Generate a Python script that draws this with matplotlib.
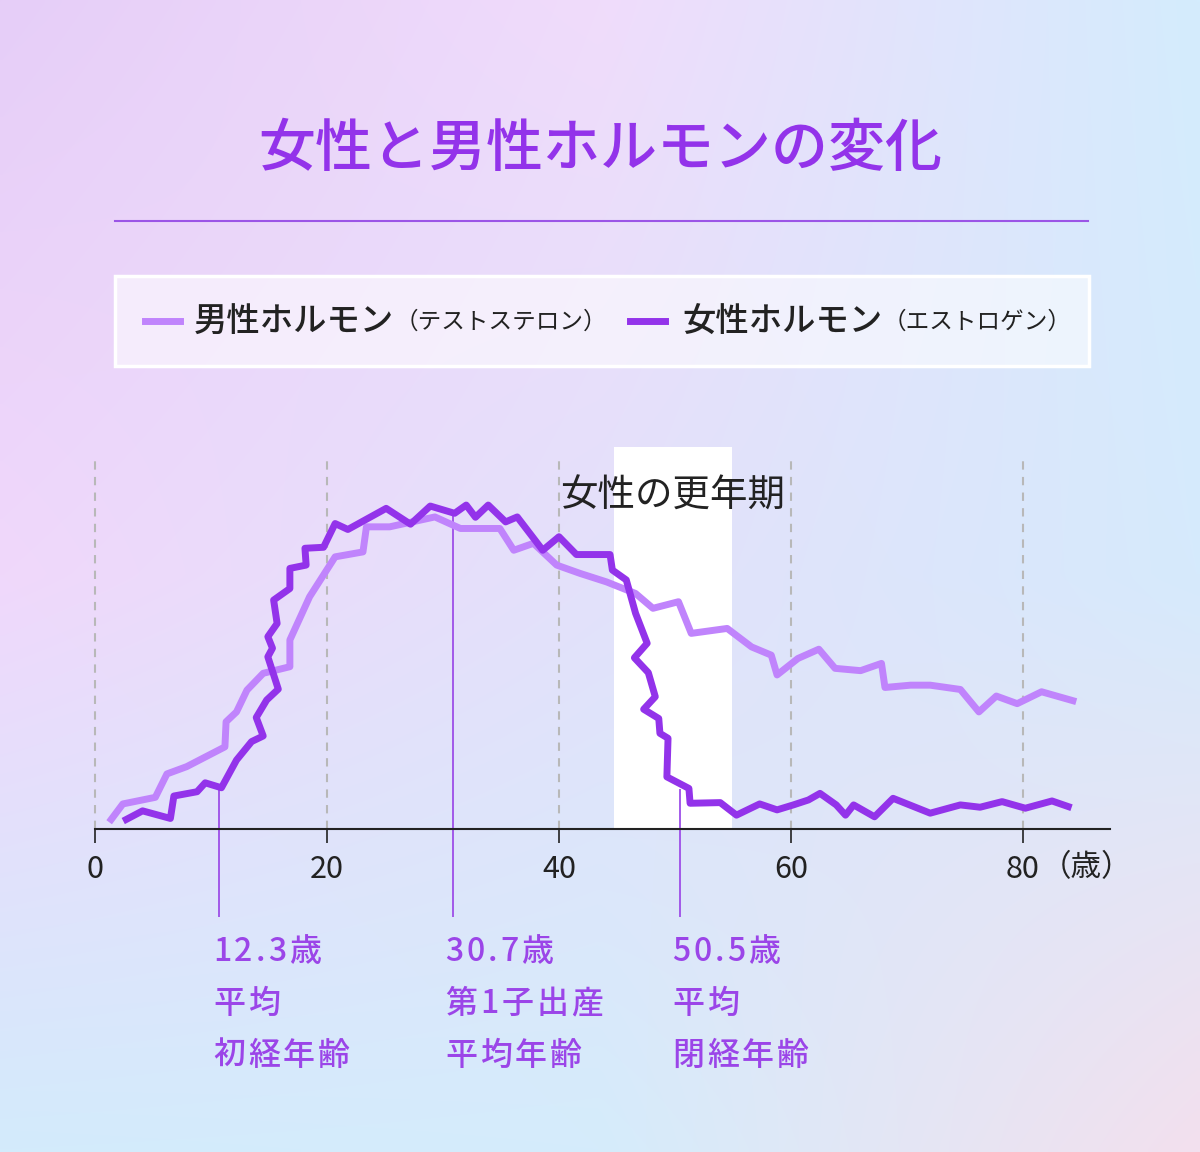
import numpy as np
import matplotlib
matplotlib.use("Agg")
import matplotlib.pyplot as plt
from matplotlib.lines import Line2D
from matplotlib.patches import Rectangle

plt.rcParams['font.family'] = ['Noto Sans CJK JP', 'DejaVu Sans']

# --- data (age in years, relative hormone level 0-100) ---
female_age = [2.7, 4.1, 6.5, 6.8, 8.8, 9.5, 10.9, 12.2, 13.5, 14.5, 13.9, 14.8, 15.8, 14.9, 15.3,
              14.9, 15.7, 15.4, 16.8, 16.8, 18.2, 18.1, 19.7, 20.7, 21.8, 25.1, 27.2, 28.9, 31.0,
              32.0, 32.8, 33.9, 35.4, 36.4, 38.6, 40.0, 41.5, 44.4, 44.6, 45.8, 46.6, 47.6, 46.5,
              47.7, 48.3, 47.3, 48.6, 48.7, 49.4, 49.3, 51.2, 51.3, 53.9, 55.3, 57.3, 58.8, 60.2,
              61.5, 62.5, 63.9, 64.7, 65.4, 67.2, 68.8, 72.0, 74.6, 76.3, 78.2, 80.2, 82.5, 83.9]
female_level = [2.9, 5.5, 3.2, 10.0, 11.3, 14.0, 12.5, 20.9, 26.5, 28.2, 33.8, 39.1, 42.4, 52.2, 54.8,
                58.3, 62.3, 69.4, 72.9, 79.0, 80.0, 85.1, 85.4, 92.6, 90.8, 97.2, 92.4, 97.9, 95.7,
                98.2, 94.5, 98.2, 93.1, 94.6, 84.5, 88.6, 83.2, 83.2, 78.5, 75.5, 65.4, 56.3, 51.9,
                47.4, 40.1, 36.3, 33.5, 29.0, 27.5, 15.8, 12.3, 7.8, 8.0, 4.2, 7.6, 5.8, 7.3,
                8.8, 10.8, 7.3, 4.2, 7.3, 3.7, 9.3, 4.8, 7.3, 6.6, 8.3, 6.3, 8.5, 6.8]

male_age = [1.4, 2.4, 5.2, 6.2, 7.9, 11.2, 11.3, 12.2, 13.1, 14.5, 16.8, 16.8, 18.5, 20.7, 23.1,
            23.4, 25.4, 29.3, 31.5, 34.9, 36.1, 37.8, 39.8, 41.8, 44.1, 46.6, 48.1, 50.3, 51.4,
            54.5, 56.6, 58.3, 58.8, 60.6, 62.4, 63.8, 66.0, 67.8, 68.1, 70.3, 72.0, 74.6, 76.2,
            77.7, 79.5, 81.6, 84.3]
male_level = [2.9, 7.6, 9.6, 16.7, 18.9, 24.9, 32.5, 35.5, 42.1, 47.2, 49.2, 57.3, 70.4, 82.5, 84.0,
              91.6, 91.6, 94.6, 91.1, 91.1, 84.5, 86.6, 80.0, 77.5, 74.9, 71.4, 66.9, 68.9, 59.3,
              60.8, 55.2, 52.7, 46.7, 51.7, 54.5, 48.7, 48.0, 50.2, 42.9, 43.6, 43.6, 42.3, 35.5,
              40.3, 38.0, 41.6, 38.9]

tick_ages = [0, 20, 40, 60, 80]
tick_labels = ['0', '20', '40', '60', '80']
menopause_span = (44.7, 54.9)

marker_ages = [10.7, 30.9, 50.4]
marker_tops = [12.7, 96.7, 12.0]
marker_labels = [['12.3歳', '平均', '初経年齢'],
                 ['30.7歳', '第1子出産', '平均年齢'],
                 ['50.5歳', '平均', '閉経年齢']]

title = '女性と男性ホルモンの変化'
male_name, male_sub = '男性ホルモン', '（テストステロン）'
female_name, female_sub = '女性ホルモン', '（エストロゲン）'

light = '#c084fc'
dark = '#9333ea'
ink = '#222222'

W, H = 1200, 1152


def fx(px):
    return px / W


def fy(py):
    return 1 - py / H


fig = plt.figure(figsize=(12, 11.52), dpi=100)
renderer = fig.canvas.get_renderer()


def text_width(s, size, weight):
    t = fig.text(0, 0, s, fontsize=size, fontweight=weight)
    w = t.get_window_extent(renderer).width
    t.remove()
    return w


def spaced_text(x_px, base_px, s, size, color, gap, weight='medium'):
    # draw a string char by char to get the letter spacing of the original
    x = x_px
    for ch in s:
        fig.text(fx(x), fy(base_px), ch, ha='left', va='baseline', fontsize=size,
                 color=color, fontweight=weight)
        x += text_width(ch + ch, size, weight) - text_width(ch, size, weight) + gap


# background gradient (3x3 colour grid, bilinear)
grid_hex = [['#e6cef8', '#f0dcfb', '#d4ecfd'],
            ['#f0d8fb', '#e3e1fa', '#d6eafc'],
            ['#d3ebfc', '#d5ecfb', '#f3e0ee']]
grid = np.array([[matplotlib.colors.to_rgb(c) for c in row] for row in grid_hex])
ny, nx = 230, 240
gy = np.linspace(0, 2, ny)[:, None]
gx = np.linspace(0, 2, nx)[None, :]
iy = np.clip(np.floor(gy).astype(int), 0, 1)
ix = np.clip(np.floor(gx).astype(int), 0, 1)
ty = (gy - iy)[..., None]
tx = (gx - ix)[..., None]
iy2 = np.broadcast_to(iy, (ny, nx))
ix2 = np.broadcast_to(ix, (ny, nx))
c00 = grid[iy2, ix2]
c01 = grid[iy2, ix2 + 1]
c10 = grid[iy2 + 1, ix2]
c11 = grid[iy2 + 1, ix2 + 1]
img = (c00 * (1 - tx) + c01 * tx) * (1 - ty) + (c10 * (1 - tx) + c11 * tx) * ty
bg = fig.add_axes([0, 0, 1, 1])
bg.imshow(img, extent=[0, 1, 0, 1], aspect='auto', interpolation='bilinear')
bg.axis('off')

# title and rule
fig.text(0.5, fy(150), title, ha='center', va='center', fontsize=41,
         color=dark, fontweight='medium')
fig.add_artist(Line2D([fx(115), fx(1088)], [fy(221), fy(221)], color='#9b55e6', lw=1.5))

# legend box
fig.add_artist(Rectangle((fx(115), fy(366)), fx(1089) - fx(115), (366 - 276) / H,
                         facecolor=(1, 1, 1, 0.55), edgecolor='white', lw=2.5,
                         transform=fig.transFigure))
fig.add_artist(Line2D([fx(145), fx(180)], [fy(321), fy(321)], color=light, lw=5))
fig.text(fx(194), fy(322), male_name, ha='left', va='center', fontsize=24, color=ink,
         fontweight='medium')
fig.text(fx(395), fy(322), male_sub, ha='left', va='center', fontsize=17, color=ink)
fig.add_artist(Line2D([fx(630), fx(665)], [fy(321), fy(321)], color=dark, lw=5))
fig.text(fx(682), fy(322), female_name, ha='left', va='center', fontsize=24, color=ink,
         fontweight='medium')
fig.text(fx(883), fy(322), female_sub, ha='left', va='center', fontsize=17, color=ink)

# main chart
ax = fig.add_axes([fx(95), fy(829), fx(1110) - fx(95), (829 - 447) / H])
ax.patch.set_alpha(0)
ax.set_xlim(0, 87.5)
ax.set_ylim(0, 115.8)
for side in ['top', 'right', 'left']:
    ax.spines[side].set_visible(False)
ax.spines['bottom'].set_color(ink)
ax.spines['bottom'].set_linewidth(1.5)
ax.set_yticks([])
ax.set_xticks(tick_ages)
ax.set_xticklabels(tick_labels)
ax.tick_params(axis='x', length=10, width=1.2, pad=8, labelsize=22, colors=ink)

ax.vlines(tick_ages, 0, 112.7, colors='#b8b8b8', linestyles=(0, (4, 3.5)), lw=1.5,
          zorder=1, clip_on=False)
ax.axvspan(*menopause_span, color='white', lw=0, zorder=2)
ax.vlines(marker_ages, -26.7, marker_tops, colors='#9d4ee8', lw=1.3, zorder=2.5, clip_on=False)

ax.plot(male_age, male_level, color=light, lw=5, zorder=3)
ax.plot(female_age, female_level, color=dark, lw=5, zorder=4)

fig.text(fx(560), fy(496), '女性の更年期', ha='left', va='center', fontsize=27, color=ink, zorder=5)
fig.text(fx(1041), fy(868), '（歳）', ha='left', va='center', fontsize=22, color=ink)

label_x = [213, 445, 672]
for x0, lines in zip(label_x, marker_labels):
    for k, s in enumerate(lines):
        spaced_text(x0, 961 + 52 * k, s, 23, '#9b45e8', 3)

fig.savefig('out.png', dpi=100)
